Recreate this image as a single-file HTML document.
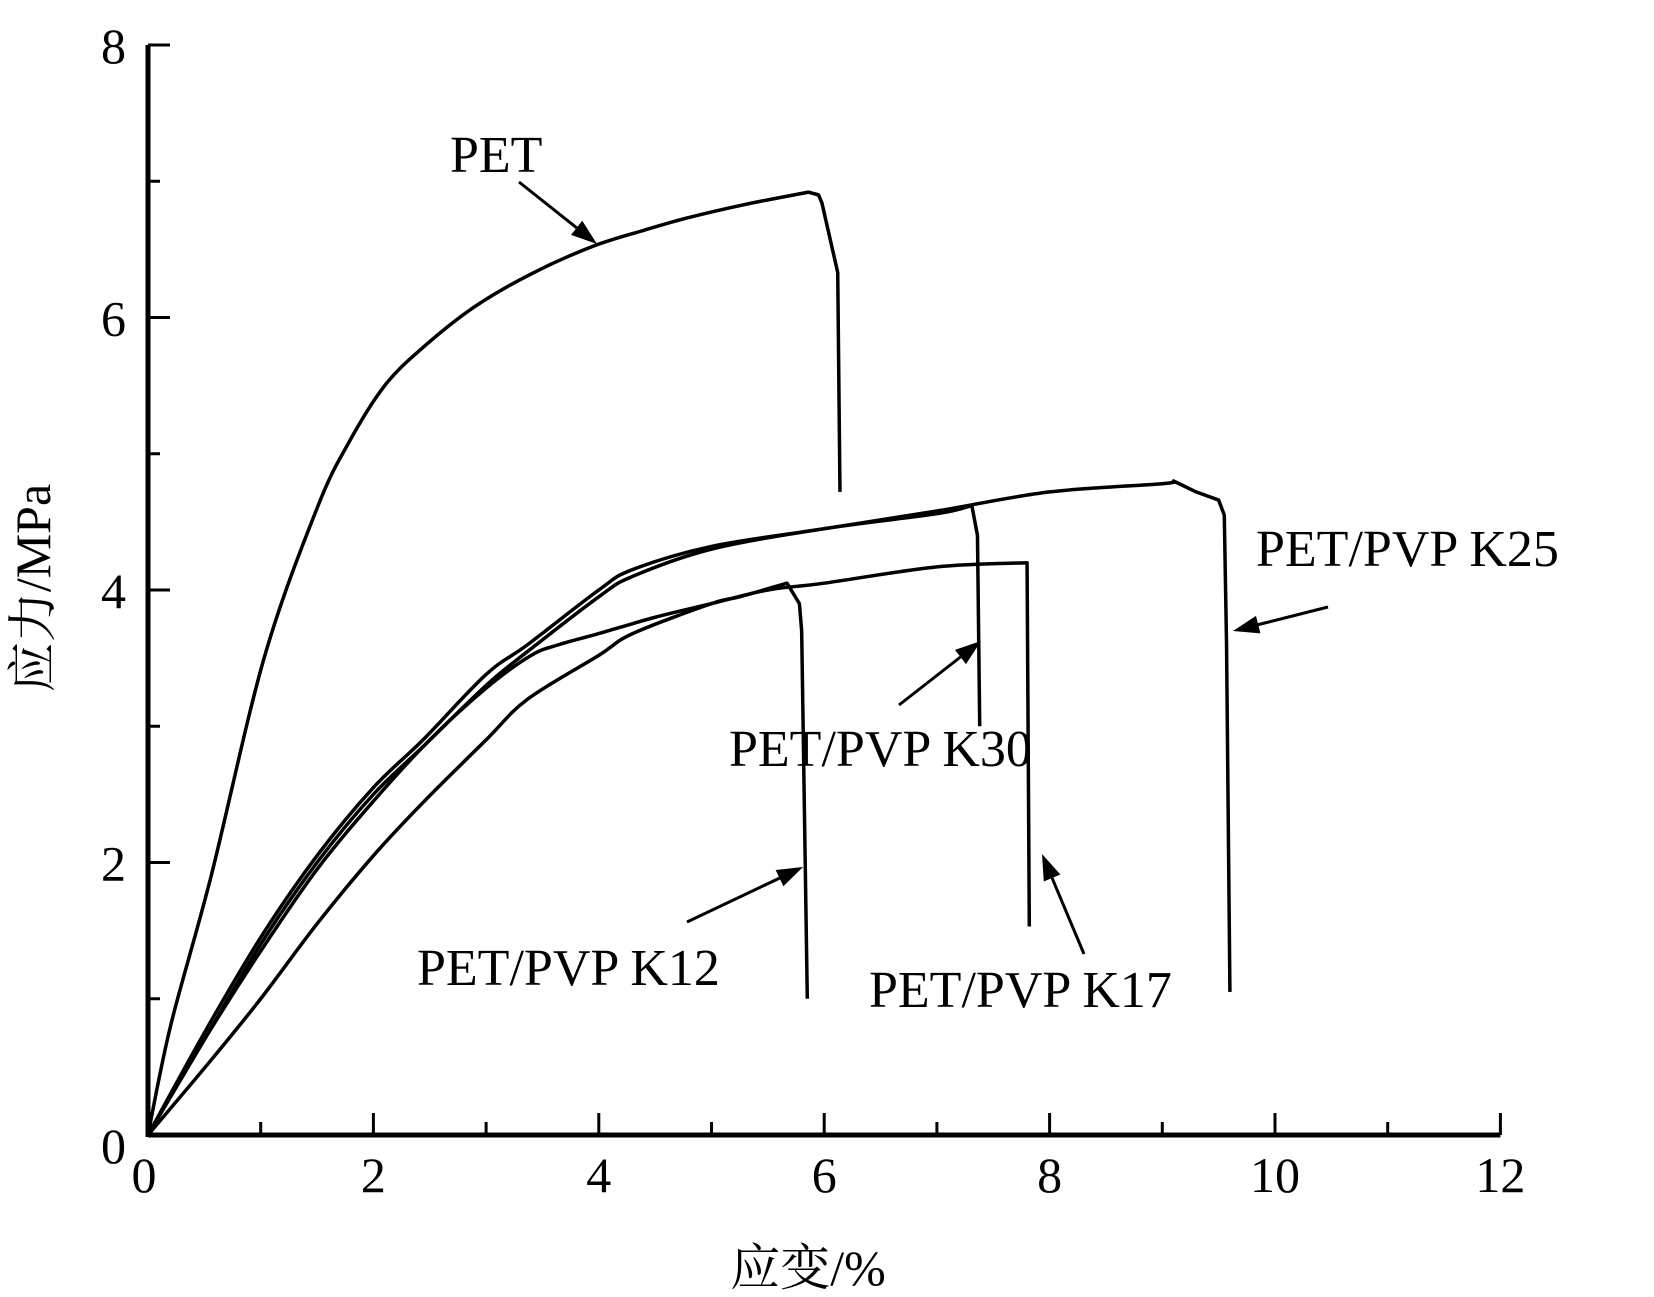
<!DOCTYPE html>
<html><head><meta charset="utf-8"><style>
body{margin:0;background:#fff}
svg{display:block}
text{font-family:"Liberation Serif","Noto Serif CJK SC",serif;fill:#000}
</style></head><body>
<svg id="chart" width="1654" height="1297" viewBox="0 0 1654 1297" xmlns="http://www.w3.org/2000/svg">
<g id="axes"></g>
<g id="series"></g>
<g id="notes"></g>
<text transform="translate(50,588) rotate(-90)" text-anchor="middle" font-size="50">应力/MPa</text>
<text x="808" y="1285" text-anchor="middle" font-size="50">应变/%</text>
</svg>
<script>
const xTicks=[0,2,4,6,8,10,12];
const yTicks=[0,2,4,6,8];
const petX=[0,0.2,0.56,1.03,1.5,1.78,2.1,2.44,2.9,3.4,3.94,4.4,4.78,5.3,5.86,5.95,5.98,6.12,6.14];
const petY=[0,0.8,1.9,3.5,4.6,5.08,5.5,5.78,6.08,6.32,6.52,6.64,6.73,6.83,6.92,6.9,6.84,6.33,4.72];
const k25X=[0,0.5,1,1.5,2,2.44,3,3.37,4,4.3,5,6,7,8,9,9.1,9.3,9.5,9.55,9.57,9.6];
const k25Y=[0,0.75,1.45,2.05,2.55,2.9,3.38,3.6,4.0,4.15,4.32,4.45,4.58,4.72,4.78,4.8,4.72,4.66,4.55,3.6,1.05];
const k30X=[0,0.5,1,1.5,2,2.44,3,3.37,4,4.3,5,6,7,7.31,7.36,7.38];
const k30Y=[0,0.7,1.4,2.0,2.5,2.85,3.3,3.55,3.95,4.1,4.3,4.45,4.56,4.62,4.4,3.0];
const k17X=[0,0.5,1,1.5,2,2.5,3,3.4,3.65,4,4.5,5,5.5,6,7,7.8,7.82];
const k17Y=[0,0.7,1.35,1.95,2.45,2.9,3.28,3.52,3.6,3.68,3.8,3.9,4.0,4.05,4.17,4.2,1.53];
const k12X=[0,0.56,1,1.5,2,2.44,3,3.37,4,4.3,5,5.25,5.67,5.78,5.8,5.85];
const k12Y=[0,0.55,1.0,1.55,2.05,2.44,2.9,3.2,3.52,3.68,3.9,3.95,4.05,3.9,3.7,1.0];
const NS='http://www.w3.org/2000/svg';
const X0=148,XU=112.7,Y0=1135,YU=136.25;
const sx=v=>X0+v*XU, sy=v=>Y0-v*YU;
function mk(tag,attrs,parent){const e=document.createElementNS(NS,tag);for(const k in attrs)e.setAttribute(k,attrs[k]);parent.appendChild(e);return e;}
const ax=document.getElementById('axes');
let l=mk('line',{x1:sx(0),y1:sy(0),x2:sx(12),y2:sy(0),stroke:'#000','stroke-width':5},ax);


l=mk('line',{x1:sx(0),y1:sy(0)+2,x2:sx(0),y2:sy(8),stroke:'#000','stroke-width':5},ax);


for(let i=1;i<=12;i++){const major=i%2==0;const t=mk('line',{x1:sx(i),y1:sy(0),x2:sx(i),y2:sy(0)-(major?22:13),stroke:'#000','stroke-width':3},ax);

}
for(let i=1;i<=8;i++){const major=i%2==0;const t=mk('line',{x1:sx(0),y1:sy(i),x2:sx(0)+(major?22:12),y2:sy(i),stroke:'#000','stroke-width':3},ax);

}
xTicks.forEach(v=>{const t=mk('text',{x:sx(v)-(v==0?4:0),y:1192,'text-anchor':'middle','font-size':50},ax);t.textContent=v;

});
yTicks.forEach(v=>{const t=mk('text',{x:126,y:sy(v)+(v==0?28:18),'text-anchor':'end','font-size':50},ax);t.textContent=v;

});
const sg=document.getElementById('series');
function pathD(xs,ys){
 let peak=0;ys.forEach((y,i)=>{if(y>=ys[peak])peak=i;});
 const P=xs.map((x,i)=>[sx(x),sy(ys[i])]);let d='M'+P[0][0]+','+P[0][1];
 for(let i=0;i<P.length-1;i++){
  if(i>=peak){d+=` L${P[i+1][0]},${P[i+1][1]}`;continue;}
  const p0=P[Math.max(0,i-1)],p1=P[i],p2=P[i+1],p3=P[Math.min(peak,i+2)];
  const c1=[p1[0]+(p2[0]-p0[0])/6,p1[1]+(p2[1]-p0[1])/6],c2=[p2[0]-(p3[0]-p1[0])/6,p2[1]-(p3[1]-p1[1])/6];
  d+=` C${c1[0]},${c1[1]} ${c2[0]},${c2[1]} ${p2[0]},${p2[1]}`;}
 return d;}
function curve(xs,ys,name){const p=mk('path',{d:pathD(xs,ys),fill:'none',stroke:'#000','stroke-width':3.5,'stroke-linejoin':'round'},sg);

}
curve(petX,petY,'pet-curve');curve(k25X,k25Y,'k25-curve');curve(k30X,k30Y,'k30-curve');curve(k17X,k17Y,'k17-curve');curve(k12X,k12Y,'k12-curve');
const ng=document.getElementById('notes');
function note(txt,tx,ty,x1,y1,x2,y2,name){
 const t=mk('text',{x:tx,y:ty,'font-size':52},ng);t.textContent=txt;
 
 
 const a=Math.atan2(y2-y1,x2-x1),L=26,W=9;
 const bx=x2-L*Math.cos(a),by=y2-L*Math.sin(a);
 const ln=mk('line',{x1:x1,y1:y1,x2:bx,y2:by,stroke:'#000','stroke-width':3},ng);
 
 
 const hd=mk('polygon',{points:`${x2},${y2} ${bx+W*Math.sin(a)},${by-W*Math.cos(a)} ${bx-W*Math.sin(a)},${by+W*Math.cos(a)}`,fill:'#000'},ng);
 
 
}
note('PET',450,172,519,182,597,244,'pet');
note('PET/PVP K25',1256,566,1328,607,1233,631,'k25');
note('PET/PVP K30',729,766,899,705,981,641,'k30');
note('PET/PVP K12',417,985,687,922,803,867,'k12');
note('PET/PVP K17',869,1007,1084,954,1042,854,'k17');
</script>
</body></html>
